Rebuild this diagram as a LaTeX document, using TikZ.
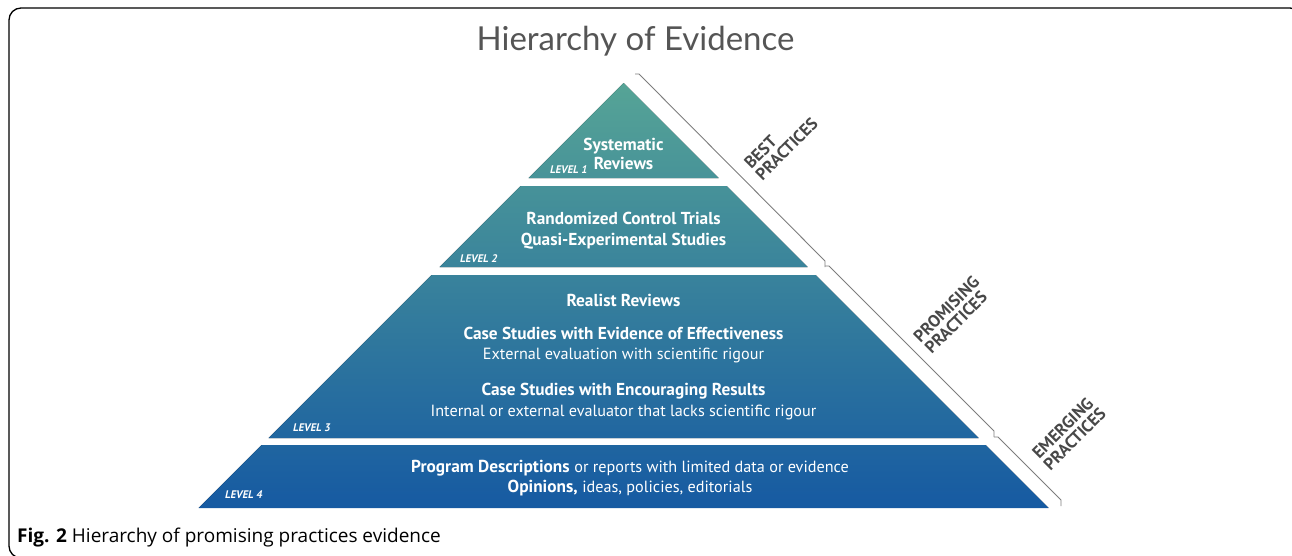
\documentclass[tikz,border=0pt]{standalone}
\usepackage{fontspec}
\setmainfont{Open Sans}
\newfontfamily\pyrfont{PT Sans}
\newfontfamily\titlefont{Lato}
\usetikzlibrary{calc}
\definecolor{pyrtop}{RGB}{86,164,150}
\definecolor{pyrmiddle}{RGB}{38,126,158}
\definecolor{pyrbottom}{RGB}{22,90,162}
\definecolor{labelgray}{RGB}{72,72,72}
\definecolor{titlegray}{RGB}{85,85,85}
\definecolor{bracketgray}{RGB}{125,125,125}
\tikzstyle{bandtext} = [text=white, inner sep=0pt, text height=12.5pt, text depth=3.5pt,
    font=\pyrfont\fontsize{17.3}{20}\selectfont\bfseries]
\tikzstyle{subtext} = [bandtext, font=\pyrfont\fontsize{16.2}{20}\selectfont]
\tikzstyle{levellabel} = [text=white, inner sep=0pt, anchor=base west,
    font=\pyrfont\fontsize{11}{13}\selectfont\bfseries\itshape]
\tikzstyle{practice} = [text=labelgray, inner sep=0pt, align=left, rotate=45,
    font=\pyrfont\fontsize{17}{16}\selectfont\bfseries]
\tikzstyle{bracket} = [draw=bracketgray, line width=0.9pt]

\begin{document}
\begin{tikzpicture}[x=1pt, y=-1pt]
    \useasboundingbox (0,0) rectangle (1292,555);
    % Frame
    \draw [line width=1.3pt, rounded corners=12pt] (9,8) rectangle (1302,558);
    % Title
    \node [text=titlegray, font=\titlefont\fontsize{33}{38}\selectfont, anchor=base] (title) at (635.5,50) {Hierarchy of Evidence};
    % Pyramid bands
    \begin{scope}
        \clip (623.5,83) -- (718.5,178) -- (528.5,178) -- cycle
              (520.5,186) -- (726.5,186) -- (807.5,267) -- (439.5,267) -- cycle
              (431.5,275) -- (815.5,275) -- (978.5,438) -- (268.5,438) -- cycle
              (261.5,445) -- (985.5,445) -- (1048.5,508) -- (198.5,508) -- cycle;
        \fill [top color=pyrtop, middle color=pyrmiddle, bottom color=pyrbottom] (190,83) rectangle (1060,508);
    \end{scope}
    % Place nodes
    \node [bandtext] (systematic) at (623.5,145.5) {Systematic};
    \node [bandtext, below of=systematic, node distance=19pt] (reviews) {Reviews};
    \node [levellabel] (level1) at (550,173) {LEVEL 1};
    \node [bandtext] (randomized) at (623.5,219.5) {Randomized Control Trials};
    \node [bandtext, below of=randomized, node distance=21pt] (quasi) {Quasi-Experimental Studies};
    \node [levellabel] (level2) at (460,262) {LEVEL 2};
    \node [bandtext] (realist) at (623.5,301.5) {Realist Reviews};
    \node [bandtext, below of=realist, node distance=33pt] (effective) {Case Studies with Evidence of Effectiveness};
    \node [subtext, below of=effective, node distance=20pt] (external) {External evaluation with scientific rigour};
    \node [bandtext, below of=external, node distance=36pt] (encouraging) {Case Studies with Encouraging Results};
    \node [subtext, below of=encouraging, node distance=21pt] (internal) {Internal or external evaluator that lacks scientific rigour};
    \node [levellabel] (level3) at (293,431) {LEVEL 3};
    \node [subtext] (program) at (630,467.5) {\fontsize{17.3}{20}\selectfont\textbf{Program Descriptions} \fontsize{16.2}{20}\selectfont or reports with limited data or evidence};
    \node [subtext, below of=program, node distance=20pt] (opinions) {\fontsize{17.3}{20}\selectfont\textbf{Opinions,} \fontsize{16.2}{20}\selectfont ideas, policies, editorials};
    \node [levellabel] (level4) at (225,498) {LEVEL 4};
    % Brackets
    \coordinate (best top) at (639,74);
    \coordinate (best end) at (825,261);
    \coordinate (promising top) at (829,266);
    \coordinate (promising end) at (994,431);
    \coordinate (emerging top) at (998,437);
    \coordinate (emerging end) at (1061,500);
    \draw [bracket] ($(best top)+(-4,0)$) -- (best top) -- (best end) -- ++(0,6);
    \draw [bracket] ($(promising top)+(-4,0)$) -- (promising top) -- (promising end) -- ++(0,6);
    \draw [bracket] ($(emerging top)+(-4,0)$) -- (emerging top) -- (emerging end) -- ++(0,6);
    \node [practice] (best) at (781,143) {BEST\\PRACTICES};
    \node [practice] (promising) at (952,315) {PROMISING\\PRACTICES};
    \node [practice] (emerging) at (1069,433) {EMERGING\\PRACTICES};
    % Caption
    \node [anchor=base west, inner sep=0pt, font=\fontsize{19}{22}\selectfont] (caption) at (17,542) {\textbf{Fig. 2} Hierarchy of promising practices evidence};
\end{tikzpicture}
\end{document}
